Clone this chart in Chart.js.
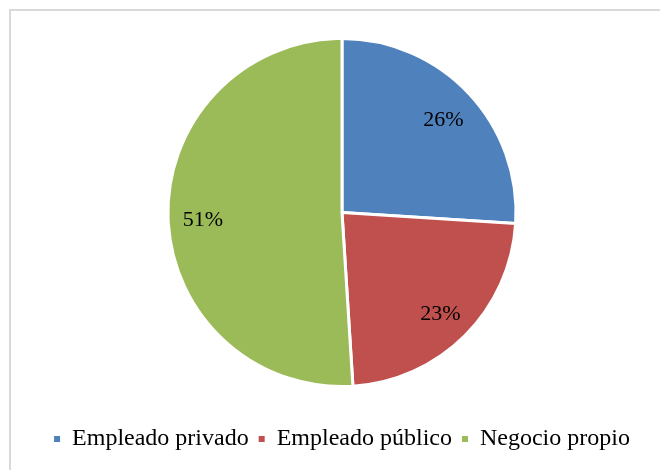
<!DOCTYPE html>
<html>
<head>
<meta charset="utf-8">
<script src="https://cdn.jsdelivr.net/npm/chart.js@4/dist/chart.umd.min.js"></script>
<style>
  html, body { margin: 0; padding: 0; background: #fff; }
  #wrap { position: relative; width: 660px; height: 470px; }
</style>
</head>
<body>
<div id="wrap"><canvas id="pieChart" width="660" height="470"></canvas></div>
<script>
// data
const categories = ['Empleado privado', 'Empleado público', 'Negocio propio'];
const shares = [26, 23, 51];
const sliceColors = ['#4F81BD', '#C0504D', '#9BBB59'];

(function(){
  'use strict';

  const serif = '"Liberation Serif", "Times New Roman", serif';

  // frame: only left and top edges show in the picture
  const framePlugin = {
    id: 'frame',
    beforeDraw(chart){
      const ctx = chart.ctx;
      ctx.save();
      ctx.fillStyle = '#fff';
      ctx.fillRect(0, 0, chart.width, chart.height);
      ctx.fillStyle = '#d9d9d9';
      ctx.fillRect(9, 9, 2, chart.height);
      ctx.fillRect(9, 9, chart.width, 2);
      ctx.restore();
    }
  };

  // percent labels inside each slice
  const sliceLabels = {
    id: 'sliceLabels',
    afterDatasetsDraw(chart){
      const ctx = chart.ctx;
      const meta = chart.getDatasetMeta(0);
      ctx.save();
      ctx.font = '22px ' + serif;
      ctx.fillStyle = '#000';
      ctx.textAlign = 'center';
      ctx.textBaseline = 'middle';
      meta.data.forEach((arc, i) => {
        const p = arc.getProps(['x', 'y', 'startAngle', 'endAngle', 'outerRadius'], true);
        const mid = (p.startAngle + p.endAngle) / 2;
        const r = p.outerRadius * 0.8;
        ctx.fillText(shares[i] + '%', p.x + Math.cos(mid) * r, p.y + Math.sin(mid) * r + 3);
      });
      ctx.restore();
    }
  };

  const ctx = document.getElementById('pieChart').getContext('2d');
  new Chart(ctx, {
    type: 'pie',
    data: {
      labels: categories,
      datasets: [{
        data: shares,
        backgroundColor: sliceColors,
        borderColor: '#fff',
        borderWidth: 3
      }]
    },
    options: {
      responsive: false,
      animation: false,
      layout: { padding: { top: 37, left: 24, right: 0, bottom: 9 } },
      plugins: {
        legend: {
          position: 'bottom',
          title: { display: true, text: ' ', font: { size: 10 }, padding: { top: 17, bottom: 0 } },
          labels: {
            boxWidth: 6,
            boxHeight: 6,
            padding: 10,
            color: '#000',
            font: { family: serif, size: 24 },
            generateLabels(chart){
              const items = Chart.controllers.pie.overrides.plugins.legend.labels.generateLabels(chart);
              items.forEach(it => { it.lineWidth = 0; it.strokeStyle = it.fillStyle; });
              return items;
            }
          }
        },
        tooltip: { enabled: false }
      }
    },
    plugins: [framePlugin, sliceLabels]
  });
})();
</script>
</body>
</html>
